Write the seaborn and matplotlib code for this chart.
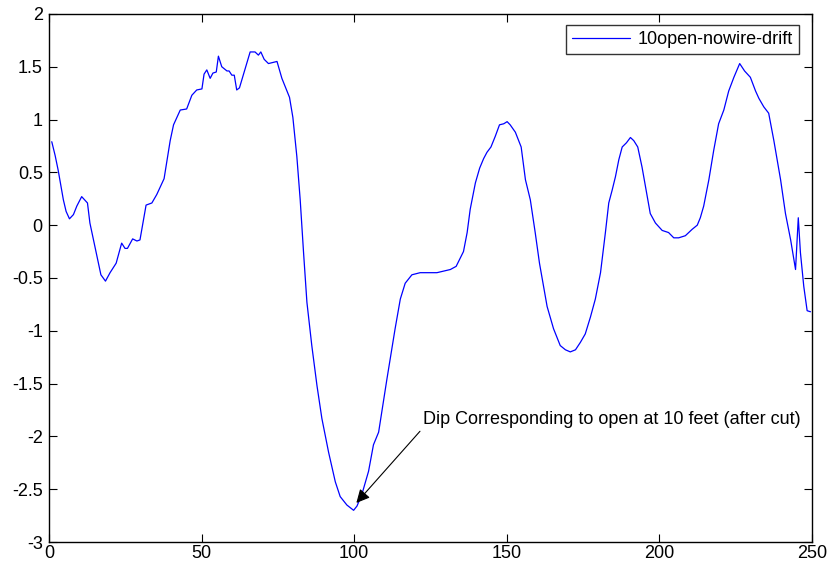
import matplotlib
matplotlib.use("Agg")
import matplotlib.pyplot as plt
import seaborn as sns
import pandas as pd

sample = [0.9, 2.0, 3.0, 4.7, 5.6, 6.7, 8.0, 9.1, 10.7, 12.6, 13.4, 15.1, 17.0, 18.5,
          20.0, 22.0, 23.8, 24.9, 25.7, 27.4, 28.8, 29.8, 31.8, 33.7, 35.3, 37.7,
          39.7, 40.8, 43.0, 45.1, 46.8, 48.4, 50.1, 50.8, 51.7, 52.8, 53.7, 54.8,
          55.5, 56.6, 58.3, 59.0, 59.9, 60.7, 61.5, 62.4, 65.9, 67.5, 68.6, 69.4,
          70.5, 71.9, 73.3, 74.7, 76.3, 77.7, 78.8, 79.9, 81.2, 82.3, 83.4, 84.5,
          86.1, 87.8, 89.4, 91.6, 93.8, 95.4, 97.6, 99.8, 100.9, 102.5, 104.7,
          106.3, 108.0, 110.7, 113.4, 115.1, 116.7, 118.9, 121.6, 122.7, 124.4,
          127.1, 131.5, 133.4, 135.8, 137.0, 138.0, 139.7, 141.1, 142.4, 143.5,
          144.8, 146.2, 147.6, 149.0, 150.1, 151.1, 152.8, 154.7, 156.1, 157.7,
          159.3, 160.7, 163.2, 165.3, 167.5, 169.2, 170.8, 172.5, 174.1, 175.7,
          177.4, 179.0, 180.7, 182.3, 183.4, 184.5, 185.6, 186.7, 187.8, 189.2,
          190.5, 191.6, 192.9, 194.3, 196.0, 197.0, 198.7, 200.9, 203.0, 204.7,
          206.3, 208.5, 210.7, 212.4, 213.4, 214.5, 216.2, 217.8, 219.4, 221.1,
          222.7, 224.4, 226.3, 227.9, 229.8, 231.5, 232.6, 234.2, 235.8, 237.5,
          239.7, 241.3, 243.0, 244.6, 245.5, 246.2, 247.3, 248.4, 249.5]
drift = [0.79, 0.66, 0.52, 0.24, 0.13, 0.06, 0.10, 0.18, 0.27, 0.21, 0.02, -0.21, -0.47,
         -0.53, -0.45, -0.36, -0.17, -0.22, -0.22, -0.13, -0.15, -0.14, 0.19, 0.21,
         0.29, 0.44, 0.80, 0.95, 1.09, 1.10, 1.23, 1.28, 1.29, 1.43, 1.47, 1.39, 1.44,
         1.45, 1.60, 1.50, 1.46, 1.46, 1.42, 1.42, 1.28, 1.30, 1.64, 1.64, 1.61, 1.64,
         1.57, 1.53, 1.54, 1.55, 1.39, 1.29, 1.21, 1.02, 0.65, 0.24, -0.26, -0.73,
         -1.14, -1.52, -1.83, -2.15, -2.43, -2.57, -2.65, -2.70, -2.66, -2.55, -2.33,
         -2.08, -1.96, -1.46, -0.98, -0.70, -0.55, -0.47, -0.45, -0.45, -0.45, -0.45,
         -0.42, -0.39, -0.25, -0.07, 0.15, 0.40, 0.54, 0.63, 0.69, 0.74, 0.84, 0.95,
         0.96, 0.98, 0.95, 0.88, 0.74, 0.43, 0.24, -0.07, -0.36, -0.77, -0.98, -1.14,
         -1.18, -1.20, -1.18, -1.11, -1.03, -0.87, -0.70, -0.45, -0.07, 0.21, 0.33,
         0.46, 0.62, 0.74, 0.78, 0.83, 0.80, 0.74, 0.55, 0.27, 0.11, 0.02, -0.05,
         -0.07, -0.12, -0.12, -0.10, -0.04, 0.00, 0.07, 0.18, 0.43, 0.71, 0.96, 1.09,
         1.27, 1.40, 1.53, 1.46, 1.40, 1.27, 1.20, 1.12, 1.06, 0.80, 0.43, 0.11,
         -0.14, -0.42, 0.07, -0.26, -0.58, -0.81, -0.82]

series_name = "10open-nowire-drift"
note_text = "Dip Corresponding to open at 10 feet (after cut)"
x_ticks = [0, 50, 100, 150, 200, 250]
y_ticks = [-3, -2.5, -2, -1.5, -1, -0.5, 0, 0.5, 1, 1.5, 2]

sns.set_theme(style="ticks")
plt.rcParams['font.family'] = ['Liberation Sans', 'DejaVu Sans']
plt.rcParams['text.color'] = 'black'

df = pd.DataFrame({"x": sample, "y": drift})

fig = plt.figure(figsize=(8.28, 5.66), dpi=100)
ax = fig.add_axes([0.0592, 0.0424, 0.9215, 0.933])

sns.lineplot(data=df, x="x", y="y", ax=ax, color="#0000ff", linewidth=0.9,
             sort=False, estimator=None, label=series_name)

ax.set_xlim(0, 250)
ax.set_ylim(-3, 2)
ax.set_xticks(x_ticks)
ax.set_yticks(y_ticks)
ax.set_yticklabels(["%g" % t for t in y_ticks])
ax.set_xlabel("")
ax.set_ylabel("")
for s in ax.spines.values():
    s.set_visible(True)
    s.set_linewidth(1.0)
    s.set_color("black")
ax.tick_params(direction="in", length=6, width=0.8, top=True, right=True,
               labelsize=13, colors="black", labelcolor="black")
ax.tick_params(axis="x", pad=2.5)
ax.tick_params(axis="y", pad=4.5)

leg = ax.legend(loc="upper right", fontsize=13, frameon=True, fancybox=False,
                handlelength=3.2, handletextpad=0.4, borderpad=0.35,
                borderaxespad=0, bbox_to_anchor=(799 / 828, 1 - 24.7 / 566),
                bbox_transform=fig.transFigure)
leg.get_frame().set_edgecolor("black")
leg.get_frame().set_linewidth(1.0)
for t in leg.get_texts():
    t.set_color("black")

ax.annotate(note_text, xy=(100.7, -2.63), xytext=(122.5, -1.84),
            fontsize=13, ha="left", va="center", color="black",
            arrowprops=dict(arrowstyle="-|>", color="black", lw=0.8,
                            mutation_scale=20, shrinkA=0, shrinkB=0,
                            relpos=(0, 0)))

fig.savefig("out.png", dpi=100)
